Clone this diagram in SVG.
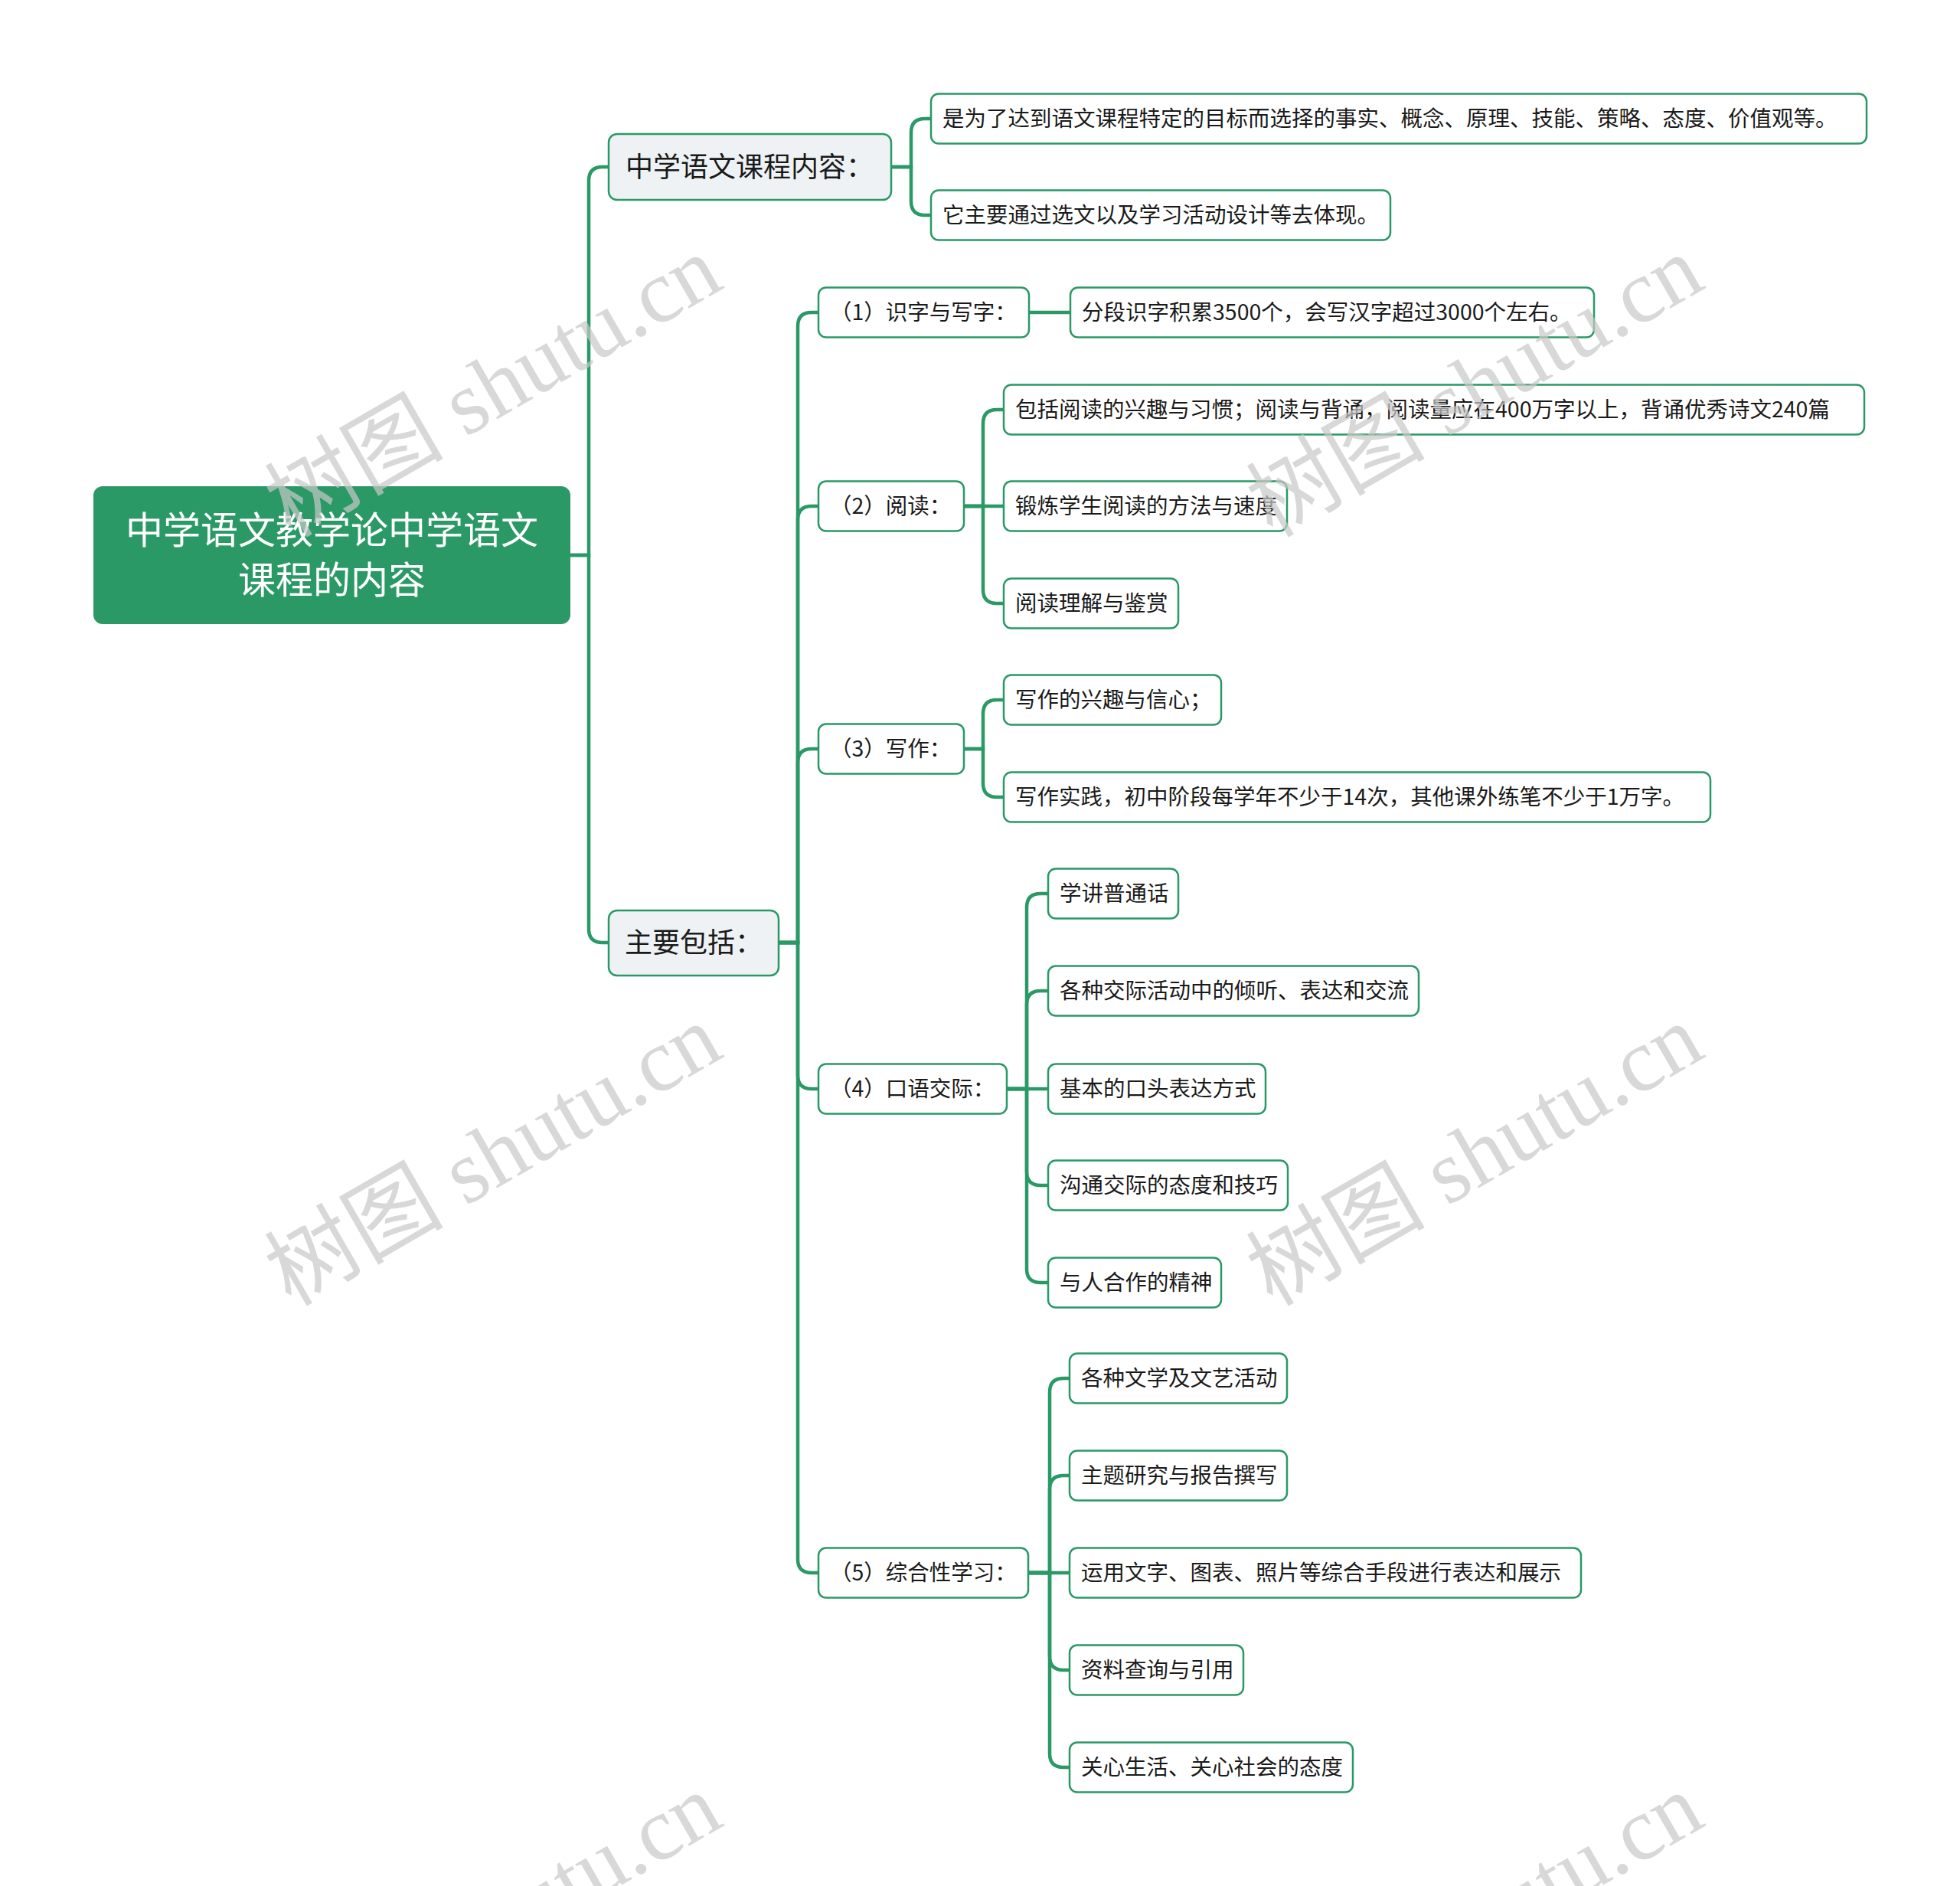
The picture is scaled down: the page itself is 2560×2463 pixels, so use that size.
<svg xmlns="http://www.w3.org/2000/svg" width="2560" height="2463" viewBox="0 0 2560 2463">
<style>
.t{font-family:"Noto Sans CJK SC","Microsoft YaHei",sans-serif;fill:#1a1a1a}
.leaf rect{fill:#ffffff;stroke:#2a9966;stroke-width:2.5}
.leaf text{font-size:28.5px}
.l1 rect{fill:#eef2f5;stroke:#2a9966;stroke-width:2.5}
.l1 text{font-size:36px}
.root rect{fill:#2a9966}
.root text{font-size:49px;fill:#ffffff}
#connectors path{fill:none;stroke:#2a9966;stroke-width:4.5;stroke-linecap:round}
.wm{font-family:"Liberation Serif","Noto Sans CJK SC",serif;font-size:117px;fill:#c8c8c8;opacity:0.7}
</style>
<rect width="2560" height="2463" fill="#ffffff"/>
<g id="connectors">
<path d="M745,725 H769 V236 Q769,218 787,218 H795"/>
<path d="M745,725 H769 V1213 Q769,1231 787,1231 H795"/>
<path d="M1164,218 H1190 V173 Q1190,155 1208,155 H1216"/>
<path d="M1164,218 H1190 V263 Q1190,281 1208,281 H1216"/>
<path d="M1017,1231 H1042 V426 Q1042,408 1060,408 H1069"/>
<path d="M1017,1231 H1042 V679 Q1042,661 1060,661 H1069"/>
<path d="M1017,1231 H1042 V996 Q1042,978 1060,978 H1069"/>
<path d="M1017,1231 H1042 V1404 Q1042,1422 1060,1422 H1069"/>
<path d="M1017,1231 H1042 V2036 Q1042,2054 1060,2054 H1069"/>
<path d="M1344,408 H1398"/>
<path d="M1259,661 H1284 V553 Q1284,535 1302,535 H1311"/>
<path d="M1259,661 H1311"/>
<path d="M1259,661 H1284 V770 Q1284,788 1302,788 H1311"/>
<path d="M1259,978 H1284 V932 Q1284,914 1302,914 H1311"/>
<path d="M1259,978 H1284 V1023 Q1284,1041 1302,1041 H1311"/>
<path d="M1315,1422 H1341 V1185 Q1341,1167 1359,1167 H1369"/>
<path d="M1315,1422 H1341 V1312 Q1341,1294 1359,1294 H1369"/>
<path d="M1315,1422 H1369"/>
<path d="M1315,1422 H1341 V1530 Q1341,1548 1359,1548 H1369"/>
<path d="M1315,1422 H1341 V1657 Q1341,1675 1359,1675 H1369"/>
<path d="M1343,2054 H1371 V1818 Q1371,1800 1389,1800 H1397"/>
<path d="M1343,2054 H1371 V1945 Q1371,1927 1389,1927 H1397"/>
<path d="M1343,2054 H1397"/>
<path d="M1343,2054 H1371 V2163 Q1371,2181 1389,2181 H1397"/>
<path d="M1343,2054 H1371 V2290 Q1371,2308 1389,2308 H1397"/>
</g>
<g id="root" class="root"><rect x="122" y="635" width="623" height="180" rx="12"/>
<text class="t" x="433.5" y="710" text-anchor="middle">中学语文教学论中学语文</text>
<text class="t" x="433.5" y="775" text-anchor="middle">课程的内容</text></g>
<g id="n-content" class="l1"><rect x="795" y="175" width="369" height="86" rx="11"/><text class="t" x="817" y="231">中学语文课程内容：</text></g>
<g id="n-main" class="l1"><rect x="795" y="1189" width="222" height="85" rx="11"/><text class="t" x="816" y="1244">主要包括：</text></g>
<g id="c1" class="leaf"><rect x="1216" y="122.5" width="1222" height="65" rx="10"/><text class="t" x="1231" y="165">是为了达到语文课程特定的目标而选择的事实、概念、原理、技能、策略、态度、价值观等。</text></g>
<g id="c2" class="leaf"><rect x="1216" y="248.5" width="600" height="65" rx="10"/><text class="t" x="1231" y="291">它主要通过选文以及学习活动设计等去体现。</text></g>
<g id="p1" class="leaf"><rect x="1069" y="375.5" width="275" height="65" rx="10"/><text class="t" x="1084" y="418">（1）识字与写字：</text></g>
<g id="p1a" class="leaf"><rect x="1398" y="375.5" width="684" height="65" rx="10"/><text class="t" x="1413" y="418">分段识字积累3500个，会写汉字超过3000个左右。</text></g>
<g id="p2" class="leaf"><rect x="1069" y="628.5" width="190" height="65" rx="10"/><text class="t" x="1084" y="671">（2）阅读：</text></g>
<g id="p2a" class="leaf"><rect x="1311" y="502.5" width="1124" height="65" rx="10"/><text class="t" x="1326" y="545">包括阅读的兴趣与习惯；阅读与背诵，阅读量应在400万字以上，背诵优秀诗文240篇</text></g>
<g id="p2b" class="leaf"><rect x="1311" y="628.5" width="370" height="65" rx="10"/><text class="t" x="1326" y="671">锻炼学生阅读的方法与速度</text></g>
<g id="p2c" class="leaf"><rect x="1311" y="755.5" width="228" height="65" rx="10"/><text class="t" x="1326" y="798">阅读理解与鉴赏</text></g>
<g id="p3" class="leaf"><rect x="1069" y="945.5" width="190" height="65" rx="10"/><text class="t" x="1084" y="988">（3）写作：</text></g>
<g id="p3a" class="leaf"><rect x="1311" y="881.5" width="284" height="65" rx="10"/><text class="t" x="1326" y="924">写作的兴趣与信心；</text></g>
<g id="p3b" class="leaf"><rect x="1311" y="1008.5" width="923" height="65" rx="10"/><text class="t" x="1326" y="1051">写作实践，初中阶段每学年不少于14次，其他课外练笔不少于1万字。</text></g>
<g id="p4" class="leaf"><rect x="1069" y="1389.5" width="246" height="65" rx="10"/><text class="t" x="1084" y="1432">（4）口语交际：</text></g>
<g id="p4a" class="leaf"><rect x="1369" y="1134.5" width="170" height="65" rx="10"/><text class="t" x="1384" y="1177">学讲普通话</text></g>
<g id="p4b" class="leaf"><rect x="1369" y="1261.5" width="484" height="65" rx="10"/><text class="t" x="1384" y="1304">各种交际活动中的倾听、表达和交流</text></g>
<g id="p4c" class="leaf"><rect x="1369" y="1389.5" width="284" height="65" rx="10"/><text class="t" x="1384" y="1432">基本的口头表达方式</text></g>
<g id="p4d" class="leaf"><rect x="1369" y="1515.5" width="313" height="65" rx="10"/><text class="t" x="1384" y="1558">沟通交际的态度和技巧</text></g>
<g id="p4e" class="leaf"><rect x="1369" y="1642.5" width="226" height="65" rx="10"/><text class="t" x="1384" y="1685">与人合作的精神</text></g>
<g id="p5" class="leaf"><rect x="1069" y="2021.5" width="274" height="65" rx="10"/><text class="t" x="1084" y="2064">（5）综合性学习：</text></g>
<g id="p5a" class="leaf"><rect x="1397" y="1767.5" width="284" height="65" rx="10"/><text class="t" x="1412" y="1810">各种文学及文艺活动</text></g>
<g id="p5b" class="leaf"><rect x="1397" y="1894.5" width="284" height="65" rx="10"/><text class="t" x="1412" y="1937">主题研究与报告撰写</text></g>
<g id="p5c" class="leaf"><rect x="1397" y="2021.5" width="668" height="65" rx="10"/><text class="t" x="1412" y="2064">运用文字、图表、照片等综合手段进行表达和展示</text></g>
<g id="p5d" class="leaf"><rect x="1397" y="2148.5" width="227" height="65" rx="10"/><text class="t" x="1412" y="2191">资料查询与引用</text></g>
<g id="p5e" class="leaf"><rect x="1397" y="2275.5" width="370" height="65" rx="10"/><text class="t" x="1412" y="2318">关心生活、关心社会的态度</text></g>
<g id="watermarks">
<text class="wm" x="645" y="544" text-anchor="middle" transform="rotate(-30 645 506)">树图 shutu.cn</text>
<text class="wm" x="1927" y="544" text-anchor="middle" transform="rotate(-30 1927 506)">树图 shutu.cn</text>
<text class="wm" x="645" y="1548" text-anchor="middle" transform="rotate(-30 645 1510)">树图 shutu.cn</text>
<text class="wm" x="1927" y="1548" text-anchor="middle" transform="rotate(-30 1927 1510)">树图 shutu.cn</text>
<text class="wm" x="645" y="2552" text-anchor="middle" transform="rotate(-30 645 2514)">树图 shutu.cn</text>
<text class="wm" x="1927" y="2552" text-anchor="middle" transform="rotate(-30 1927 2514)">树图 shutu.cn</text>
</g>
</svg>
